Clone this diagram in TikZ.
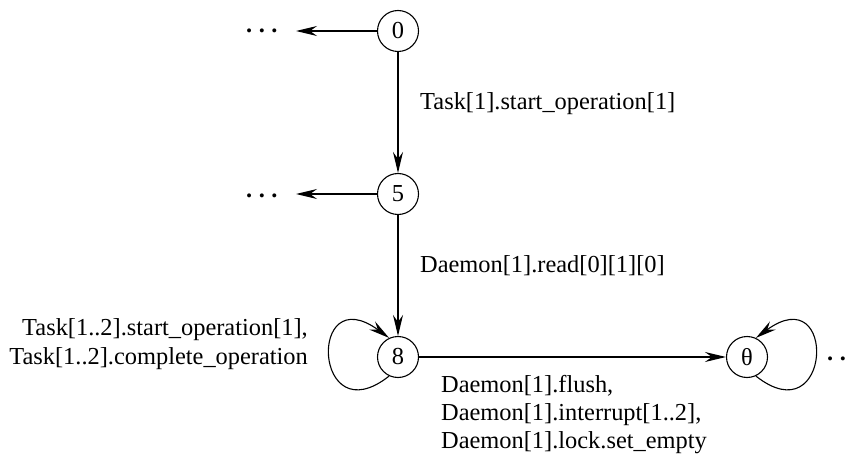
\documentclass[tikz,border=0pt]{standalone}
\usepackage{fontspec}
\setmainfont{Liberation Serif}
\usetikzlibrary{arrows.meta}
\tikzset{
  state/.style={circle, draw, line width=1.1pt, minimum size=41pt, inner sep=0pt},
  trans/.style={line width=1.1pt, -{Stealth[length=21pt, width=10pt, inset=7pt]}},
  lbl/.style={inner sep=0pt, align=left},
  lblr/.style={inner sep=0pt, align=right},
  more/.style={inner sep=0pt, font=\fontsize{24.4}{28}\selectfont\bfseries},
}
\newcommand{\moredots}{.\hspace{6.5pt}.\hspace{6.5pt}.}
\begin{document}
\begin{tikzpicture}[x=1pt, y=-1pt, font=\fontsize{24.4}{28}\selectfont]
\useasboundingbox (0,0) rectangle (851,457);
\clip (0,0) rectangle (851,457);

% states
\node[state] (n0) at (398,31) {0};
\node[state] (n5) at (398,194) {5};
\node[state] (n8) at (398,357) {8};
\node[state] (nt) at (747,357) {θ};

% elided successors
\node[more, anchor=base west] (d0) at (246,33) {\moredots};
\node[more, anchor=base west] (d5) at (246,197) {\moredots};
\node[more, anchor=base west] (dt) at (827,360) {\moredots};
\coordinate (e0) at (296,31);
\coordinate (e5) at (296,194);

% transitions
\draw[trans] (n0) -- (e0);
\draw[trans] (n5) -- (e5);
\draw[trans] (n0) -- (n5);
\draw[trans] (n5) -- (n8);
\draw[trans] (n8) -- (nt);
\draw[trans] (n8.245) .. controls +(-76,60) and +(-82,-60) .. (n8.115);
\draw[trans] (nt.-65) .. controls +(76,60) and +(82,-60) .. (nt.65);

% transition labels
\node[lbl, anchor=base west] (l05) at (420,110) {Task[1].start\_operation[1]};
\node[lbl, anchor=base west] (l58) at (420,272) {Daemon[1].read[0][1][0]};
\node[lblr, anchor=base east] (l88a) at (308,335) {Task[1..2].start\_operation[1],};
\node[lblr, anchor=base east] (l88b) at (308,364) {Task[1..2].complete\_operation};
\node[lbl, anchor=base west] (l8ta) at (441,392) {Daemon[1].flush,};
\node[lbl, anchor=base west] (l8tb) at (441,420) {Daemon[1].interrupt[1..2],};
\node[lbl, anchor=base west] (l8tc) at (441,448) {Daemon[1].lock.set\_empty};
\end{tikzpicture}
\end{document}
